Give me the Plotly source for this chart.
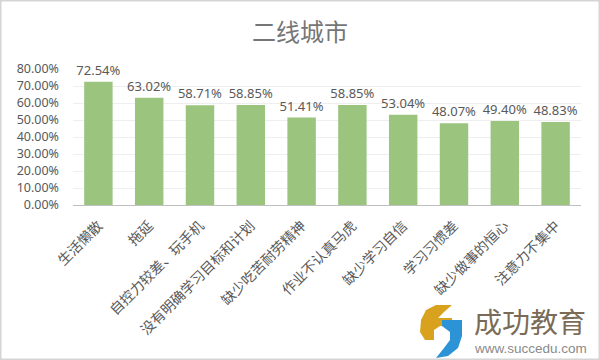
import plotly.graph_objects as go

categories = ["生活懒散", "拖延", "自控力较差、玩手机", "没有明确学习目标和计划", "缺少吃苦耐劳精神",
              "作业不认真马虎", "缺少学习自信", "学习习惯差", "缺少做事的恒心", "注意力不集中"]
values = [72.54, 63.02, 58.71, 58.85, 51.41, 58.85, 53.04, 48.07, 49.40, 48.83]
title_text = "二线城市"
y_ticks = [0, 10, 20, 30, 40, 50, 60, 70, 80]

font_fam = "Noto Sans CJK SC, Noto Sans, sans-serif"
num_fam = "Noto Sans, Open Sans, sans-serif"
gray = "#595959"

fig = go.Figure()
fig.add_trace(go.Bar(
    x=categories,
    y=[v / 100 for v in values],
    marker=dict(color="#9bc47f", line=dict(width=0)),
    text=[f"{v:.2f}%" for v in values],
    textposition="outside",
    constraintext="none",
    cliponaxis=False,
    textfont=dict(size=13, color=gray, family=num_fam),
))

fig.update_layout(
    width=600, height=360,
    margin=dict(l=73, r=19, t=69, b=155),
    paper_bgcolor="white",
    plot_bgcolor="white",
    bargap=0.44,
    showlegend=False,
    title=dict(text=title_text, x=0.5, xanchor="center", y=1 - 33 / 360, yanchor="middle",
               font=dict(size=24, color="#767676", family=font_fam)),
    xaxis=dict(
        tickangle=-45,
        tickfont=dict(size=14, color=gray, family=font_fam),
        ticklabelstandoff=6,
        showline=True, linecolor="#bfbfbf", linewidth=1,
        showgrid=False, ticks="",
    ),
    yaxis=dict(
        range=[0, 0.8],
        tickvals=[t / 100 for t in y_ticks],
        ticktext=[f"{t:.2f}%" for t in y_ticks],
        tickfont=dict(size=12.5, color=gray, family=num_fam),
        ticklabelstandoff=13,
        showgrid=True, gridcolor="#eeeeee", gridwidth=1,
        zeroline=False, ticks="", showline=False,
    ),
)

# outer border
fig.add_shape(type="rect", xref="paper", yref="paper", x0=-73/508, x1=1+19/508,
              y0=-155/136, y1=1+69/136, line=dict(color="#d4d4d4", width=3), layer="above")

# watermark logo (approximation)
def px(x, y):
    return (x - 73) / 508, (205 - y) / 136

gold = [(452, 305), (436, 305), (426, 310), (421, 320), (420, 332), (425, 340), (434, 340),
        (434, 330), (440, 326), (452, 326), (452, 318), (438, 318), (444, 312)]
blue = [(462, 320), (442, 320), (442, 326), (450, 332), (450, 340), (444, 348), (436, 358),
        (448, 356), (458, 348), (462, 336)]
for pts, col in ((gold, "#d9a21e"), (blue, "#2c93d6")):
    path = "M " + " L ".join(f"{px(x, y)[0]},{px(x, y)[1]}" for x, y in pts) + " Z"
    fig.add_shape(type="path", xref="paper", yref="paper", path=path,
                  fillcolor=col, line=dict(width=0), layer="above")

fig.add_annotation(xref="paper", yref="paper", x=px(530, 0)[0], y=px(0, 321)[1],
                   text="成功教育", showarrow=False, xanchor="center", yanchor="middle",
                   font=dict(size=28, color="#7a6b57", family=font_fam))
fig.add_annotation(xref="paper", yref="paper", x=px(530, 0)[0], y=px(0, 348)[1],
                   text="www.succedu.com", showarrow=False, xanchor="center", yanchor="middle",
                   font=dict(size=13.5, color="#8a8a8a", family="Liberation Sans, Arial, sans-serif"))

fig.write_html("out.html")
